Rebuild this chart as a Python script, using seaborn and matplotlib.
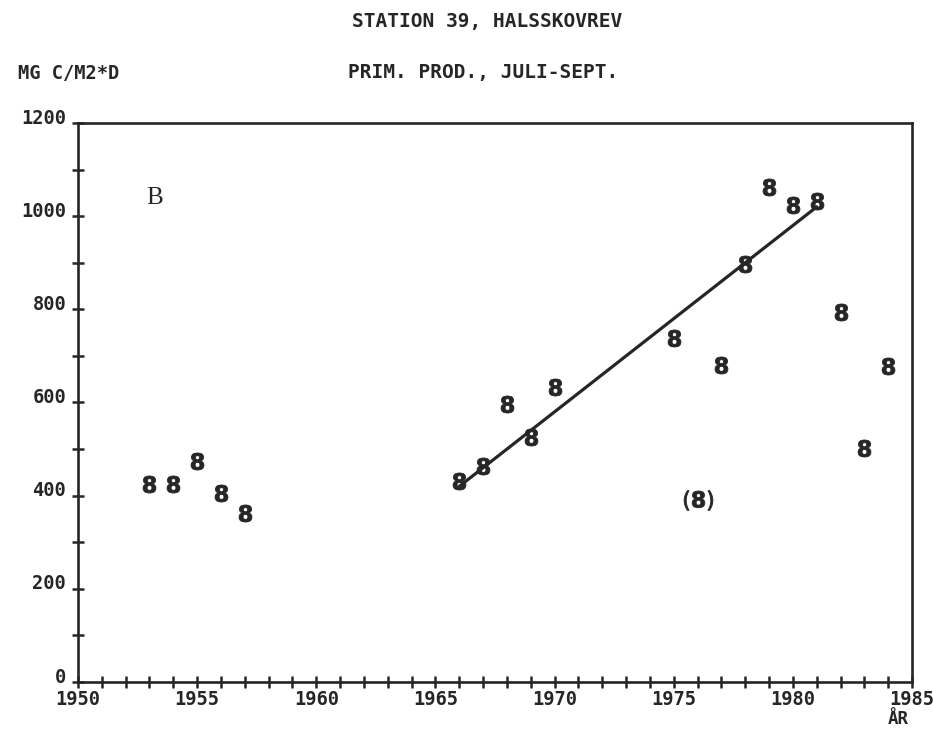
import matplotlib
matplotlib.use("Agg")
import matplotlib.pyplot as plt
import matplotlib.transforms as mtransforms
from matplotlib.ticker import MultipleLocator
import seaborn as sns
import pandas as pd

# Primary production, July-September, station 39 (mg C / m2 / day)
years = [1953, 1954, 1955, 1956, 1957,
         1966, 1967, 1968, 1969, 1970,
         1975, 1977, 1978, 1979, 1980, 1981,
         1982, 1983, 1984]
production = [425, 425, 474, 406, 363,
              431, 464, 597, 526, 633,
              738, 680, 897, 1063, 1024, 1033,
              794, 502, 678]

# Uncertain value, shown in brackets
bracket_years = [1976]
bracket_production = [390]

# Trend line 1966-1981
trend_years = [1966, 1981]
trend_production = [420, 1020]

x_ticks = [1950, 1955, 1960, 1965, 1970, 1975, 1980, 1985]
y_ticks = [0, 200, 400, 600, 800, 1000, 1200]

INK = "#262626"
MONO = "DejaVu Sans Mono"

sns.set_theme(style="white")
plt.rcParams["font.family"] = [MONO, "DejaVu Sans"]

points = pd.DataFrame({"year": years, "prod": production})
bracketed = pd.DataFrame({"year": bracket_years, "prod": bracket_production})
trend = pd.DataFrame({"year": trend_years, "prod": trend_production})

fig = plt.figure(figsize=(9.33, 7.29), dpi=100)
ax = fig.add_axes([0.0836, 0.0645, 0.894, 0.7668])

sns.lineplot(data=trend, x="year", y="prod", ax=ax, color=INK, linewidth=2.3)
sns.scatterplot(data=points, x="year", y="prod", ax=ax, marker=r"$\mathbf{8}$",
                s=150, color=INK, edgecolor=INK, linewidth=0.6)
sns.scatterplot(data=bracketed, x="year", y="prod", ax=ax, marker=r"$(\mathbf{8})$",
                s=430, color=INK, edgecolor=INK, linewidth=0.6)

ax.set_xlim(1950, 1985)
ax.set_ylim(0, 1200)
ax.set_xlabel("")
ax.set_ylabel("")

ax.xaxis.set_minor_locator(MultipleLocator(1))
ax.yaxis.set_minor_locator(MultipleLocator(100))
ax.set_xticks(x_ticks)
ax.set_yticks(y_ticks)
ax.set_xticklabels([str(t) for t in x_ticks])
ax.set_yticklabels([str(t) for t in y_ticks])

ax.tick_params(axis="both", which="both", direction="inout", color=INK,
               width=1.8, length=9, labelsize=13.5, labelcolor=INK)
ax.tick_params(axis="x", which="both", top=False, bottom=True, pad=1)
ax.tick_params(axis="y", which="both", left=True, right=False, pad=4)
for lab in ax.get_xticklabels() + ax.get_yticklabels():
    lab.set_fontweight("bold")
# y labels sit slightly above their ticks
shift = mtransforms.ScaledTranslation(0, 5 / 72, fig.dpi_scale_trans)
for lab in ax.get_yticklabels():
    lab.set_transform(lab.get_transform() + shift)

for side in ["left", "right", "top", "bottom"]:
    ax.spines[side].set_visible(True)
    ax.spines[side].set_color(INK)
    ax.spines[side].set_linewidth(1.9)

ax.text(1953.2, 1040, "B", fontsize=18, family="Liberation Serif",
        color=INK, ha="center", va="center")

fig.text(0.522, 0.970, "STATION 39, HALSSKOVREV", ha="center", va="center",
         fontsize=14, fontweight="bold", color=INK)
fig.text(0.518, 0.901, "PRIM. PROD., JULI-SEPT.", ha="center", va="center",
         fontsize=14, fontweight="bold", color=INK)
fig.text(0.019, 0.899, "MG C/M2*D", ha="left", va="center",
         fontsize=13.5, fontweight="bold", color=INK)
fig.text(0.963, 0.014, "ÅR", ha="center", va="center",
         fontsize=12.5, fontweight="bold", color=INK)

fig.savefig("out.png", dpi=100, facecolor="white")
